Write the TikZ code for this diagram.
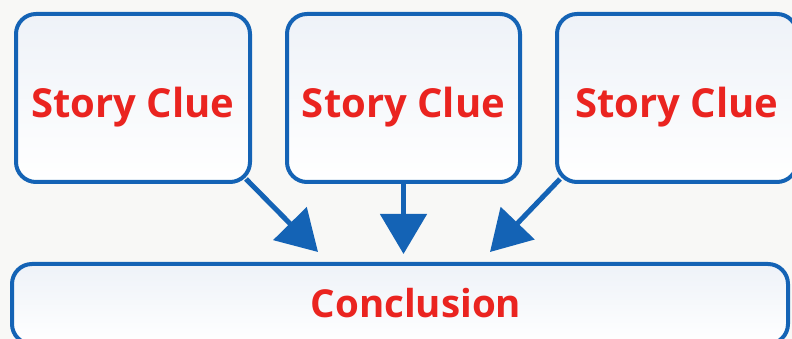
\documentclass[tikz,border=0pt]{standalone}
\usepackage{fontspec}
\setmainfont{Open Sans}
\usetikzlibrary{arrows.meta}
\definecolor{boxblue}{HTML}{1463B5}
\definecolor{cluered}{HTML}{EA2420}
\definecolor{bg}{HTML}{F8F8F6}
\definecolor{boxtop}{HTML}{EEF2F8}
\tikzset{
  cluebox/.style={draw=boxblue, line width=4pt, rounded corners=20pt,
    top color=boxtop, bottom color=white, minimum height=168pt,
    font=\fontsize{40}{48}\selectfont\bfseries, text=cluered, inner sep=0pt},
  conn/.style={draw=boxblue, line width=5pt,
    -{Triangle[length=40pt,width=46pt]}}
}
\begin{document}
\begin{tikzpicture}[x=1pt,y=1pt]
\fill[bg] (0,0) rectangle (792,339);
\useasboundingbox (0,0) rectangle (792,339);
\clip (0,0) rectangle (792,339);
\node[cluebox, minimum width=234pt] (b1) at (133,241) {\raisebox{-20pt}[0pt][0pt]{Story Clue}};
\node[cluebox, minimum width=233pt] (b2) at (403.5,241) {\raisebox{-20pt}[0pt][0pt]{Story Clue}};
\node[cluebox, minimum width=240pt] (b3) at (677,241) {\raisebox{-20pt}[0pt][0pt]{Story Clue}};
\node[cluebox, minimum width=776pt, minimum height=80pt,
  font=\fontsize{38.5}{46}\selectfont\bfseries] (c) at (400,35) {\hspace*{32pt}\raisebox{-14pt}[0pt][0pt]{Conclusion}};
\coordinate (s1) at (246,160);
\coordinate (t1) at (318,87);
\coordinate (t2) at (403.5,85);
\coordinate (s3) at (560,160);
\coordinate (t3) at (490,87);
\draw[conn] (s1) -- (t1);
\draw[conn] (b2.south) -- (t2);
\draw[conn] (s3) -- (t3);
\end{tikzpicture}
\end{document}
